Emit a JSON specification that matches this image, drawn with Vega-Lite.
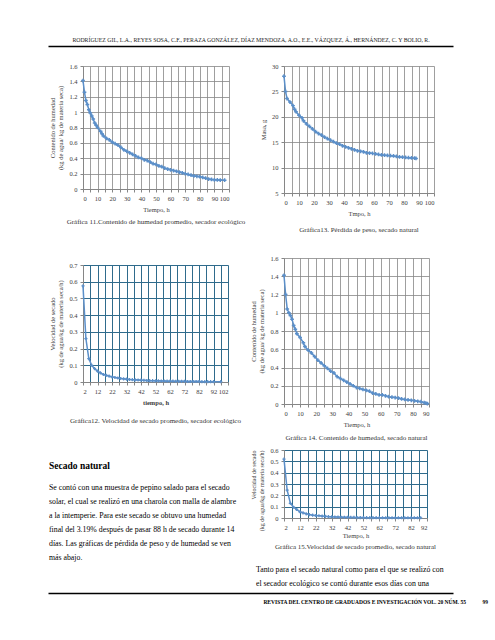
{
  "$schema": "https://vega.github.io/schema/vega-lite/v6.json",
  "background": "white",
  "padding": {"left": 45, "top": 37, "right": 5, "bottom": 5},
  "config": {
    "font": "Liberation Serif",
    "view": {"stroke": null},
    "axis": {"labelFont": "Liberation Serif", "titleFont": "Liberation Serif", "labelFontSize": 6.5, "titleFontSize": 6.5, "titleFontWeight": "normal", "labelColor": "#404040", "titleColor": "#404040", "domainColor": "#868686", "tickColor": "#868686", "gridColor": "#868686", "gridWidth": 0.8, "tickSize": 3, "labelPadding": 3, "titlePadding": 5},
    "title": {"font": "Liberation Serif", "fontSize": 7, "fontWeight": "normal", "color": "#333333", "offset": 6},
    "line": {"color": "#5b8fc9", "strokeWidth": 1.5},
    "point": {"color": "#5b8fc9"}
  },
  "datasets": {
    "hum_eco": [
      {"t":0,"v":1.41},{"t":1,"v":1.26},{"t":2,"v":1.15},{"t":3,"v":1.1},{"t":4,"v":1.03},{"t":5,"v":0.99},{"t":6,"v":0.95},{"t":7,"v":0.91},{"t":8,"v":0.86},{"t":9,"v":0.83},{"t":10,"v":0.8},{"t":12,"v":0.75},{"t":13,"v":0.72},{"t":14,"v":0.69},{"t":16,"v":0.66},{"t":18,"v":0.64},{"t":20,"v":0.61},{"t":22,"v":0.59},{"t":24,"v":0.57},{"t":26,"v":0.54},{"t":28,"v":0.51},{"t":30,"v":0.49},{"t":32,"v":0.47},{"t":34,"v":0.45},{"t":36,"v":0.43},{"t":38,"v":0.41},{"t":40,"v":0.4},{"t":42,"v":0.38},{"t":44,"v":0.37},{"t":46,"v":0.35},{"t":48,"v":0.33},{"t":50,"v":0.32},{"t":52,"v":0.3},{"t":54,"v":0.29},{"t":56,"v":0.27},{"t":58,"v":0.26},{"t":60,"v":0.25},{"t":62,"v":0.24},{"t":64,"v":0.23},{"t":66,"v":0.22},{"t":68,"v":0.21},{"t":70,"v":0.2},{"t":72,"v":0.19},{"t":74,"v":0.18},{"t":76,"v":0.17},{"t":78,"v":0.165},{"t":80,"v":0.16},{"t":82,"v":0.15},{"t":84,"v":0.14},{"t":86,"v":0.13},{"t":88,"v":0.125},{"t":90,"v":0.12},{"t":92,"v":0.118},{"t":94,"v":0.117},{"t":97,"v":0.115}
    ],
    "vel_eco": [
      {"t":2,"v":0.575},{"t":4,"v":0.26},{"t":6,"v":0.14},{"t":8,"v":0.1},{"t":10,"v":0.08},{"t":12,"v":0.065},{"t":14,"v":0.055},{"t":16,"v":0.045},{"t":18,"v":0.04},{"t":20,"v":0.035},{"t":22,"v":0.03},{"t":24,"v":0.027},{"t":26,"v":0.024},{"t":28,"v":0.021},{"t":30,"v":0.019},{"t":32,"v":0.017},{"t":34,"v":0.015},{"t":36,"v":0.014},{"t":38,"v":0.013},{"t":40,"v":0.012},{"t":42,"v":0.011},{"t":44,"v":0.01},{"t":46,"v":0.009},{"t":48,"v":0.008},{"t":50,"v":0.008},{"t":52,"v":0.007},{"t":54,"v":0.007},{"t":56,"v":0.006},{"t":58,"v":0.006},{"t":60,"v":0.005},{"t":62,"v":0.005},{"t":64,"v":0.005},{"t":66,"v":0.004},{"t":68,"v":0.004},{"t":70,"v":0.004},{"t":72,"v":0.004},{"t":74,"v":0.003},{"t":76,"v":0.003},{"t":78,"v":0.003},{"t":80,"v":0.003},{"t":82,"v":0.003},{"t":84,"v":0.002},{"t":86,"v":0.002},{"t":88,"v":0.002},{"t":90,"v":0.002},{"t":92,"v":0.002},{"t":97,"v":0.002}
    ],
    "masa_nat": [
      {"t":0,"v":28},{"t":1,"v":25},{"t":2,"v":23.6},{"t":4,"v":22.9},{"t":6,"v":22.2},{"t":7,"v":21.5},{"t":8,"v":21},{"t":10,"v":20.3},{"t":12,"v":19.8},{"t":13,"v":19.2},{"t":15,"v":18.6},{"t":17,"v":18.1},{"t":19,"v":17.6},{"t":21,"v":17.1},{"t":23,"v":16.7},{"t":25,"v":16.4},{"t":27,"v":16},{"t":29,"v":15.7},{"t":31,"v":15.4},{"t":33,"v":15.1},{"t":35,"v":14.8},{"t":37,"v":14.6},{"t":39,"v":14.3},{"t":41,"v":14.1},{"t":43,"v":13.9},{"t":45,"v":13.7},{"t":47,"v":13.5},{"t":49,"v":13.3},{"t":51,"v":13.2},{"t":53,"v":13.1},{"t":55,"v":12.9},{"t":57,"v":12.85},{"t":59,"v":12.8},{"t":61,"v":12.7},{"t":63,"v":12.6},{"t":65,"v":12.5},{"t":67,"v":12.45},{"t":69,"v":12.4},{"t":71,"v":12.35},{"t":73,"v":12.3},{"t":75,"v":12.2},{"t":77,"v":12.1},{"t":79,"v":12.05},{"t":81,"v":12},{"t":83,"v":11.95},{"t":85,"v":11.9},{"t":87,"v":11.85},{"t":88,"v":11.8}
    ],
    "hum_nat": [
      {"t":0,"v":1.41},{"t":1,"v":1.2},{"t":2,"v":1.04},{"t":3,"v":1},{"t":4,"v":0.97},{"t":5,"v":0.93},{"t":6,"v":0.86},{"t":7,"v":0.82},{"t":8,"v":0.77},{"t":10,"v":0.73},{"t":12,"v":0.67},{"t":13,"v":0.63},{"t":15,"v":0.59},{"t":17,"v":0.56},{"t":19,"v":0.52},{"t":21,"v":0.48},{"t":23,"v":0.45},{"t":25,"v":0.42},{"t":27,"v":0.39},{"t":29,"v":0.36},{"t":31,"v":0.34},{"t":33,"v":0.3},{"t":35,"v":0.28},{"t":37,"v":0.26},{"t":39,"v":0.24},{"t":41,"v":0.22},{"t":43,"v":0.2},{"t":45,"v":0.18},{"t":47,"v":0.17},{"t":49,"v":0.16},{"t":51,"v":0.15},{"t":53,"v":0.14},{"t":55,"v":0.12},{"t":57,"v":0.11},{"t":59,"v":0.1},{"t":61,"v":0.1},{"t":63,"v":0.09},{"t":65,"v":0.08},{"t":67,"v":0.075},{"t":69,"v":0.07},{"t":71,"v":0.065},{"t":73,"v":0.055},{"t":75,"v":0.05},{"t":77,"v":0.045},{"t":79,"v":0.04},{"t":81,"v":0.035},{"t":83,"v":0.03},{"t":85,"v":0.025},{"t":87,"v":0.015},{"t":88,"v":0.01},{"t":89,"v":0.005}
    ],
    "vel_nat": [
      {"t":2,"v":0.52},{"t":4,"v":0.245},{"t":6,"v":0.13},{"t":8,"v":0.095},{"t":10,"v":0.075},{"t":12,"v":0.055},{"t":14,"v":0.045},{"t":16,"v":0.037},{"t":18,"v":0.03},{"t":20,"v":0.025},{"t":22,"v":0.022},{"t":24,"v":0.02},{"t":26,"v":0.017},{"t":28,"v":0.015},{"t":30,"v":0.012},{"t":32,"v":0.01},{"t":34,"v":0.009},{"t":36,"v":0.008},{"t":38,"v":0.007},{"t":40,"v":0.006},{"t":42,"v":0.006},{"t":44,"v":0.005},{"t":46,"v":0.005},{"t":48,"v":0.004},{"t":50,"v":0.004},{"t":52,"v":0.004},{"t":54,"v":0.003},{"t":56,"v":0.003},{"t":58,"v":0.003},{"t":60,"v":0.003},{"t":62,"v":0.003},{"t":64,"v":0.002},{"t":66,"v":0.002},{"t":68,"v":0.002},{"t":70,"v":0.002},{"t":72,"v":0.002},{"t":74,"v":0.002},{"t":76,"v":0.002},{"t":78,"v":0.002},{"t":80,"v":0.002},{"t":82,"v":0.002},{"t":84,"v":0.002},{"t":86,"v":0.002},{"t":88,"v":0.002}
    ],
    "rule": [{"a": 0}, {"a": 1}]
  },
  "spacing": 2,
  "vconcat": [
    {
      "width": 370, "height": 15,
      "data": {"name": "rule"},
      "mark": {"type": "point", "opacity": 0},
      "encoding": {
        "x": {"field": "a", "type": "quantitative", "scale": {"domain": [0, 1], "range": [-35, 370]}, "axis": {"orient": "top", "domain": true, "domainColor": "black", "domainWidth": 1.3, "labels": false, "ticks": false, "grid": false, "title": null, "minExtent": 0, "maxExtent": 1}}
      },
      "title": {"text": "RODRÍGUEZ GIL, L.A., REYES SOSA, C.F., PERAZA GONZÁLEZ, DÍAZ MENDOZA, A.O., E.E., VÁZQUEZ, Á., HERNÁNDEZ, C. Y BOLIO, R.", "fontSize": 5.8, "anchor": "middle", "color": "#222222", "offset": 3, "dx": -17}
    },
    {
      "spacing": 4,
      "hconcat": [
        {
          "spacing": 37,
          "vconcat": [
            {
              "width": 146, "height": 123,
              "data": {"name": "hum_eco"},
              "mark": {"type": "line", "point": {"shape": "cross", "size": 14, "filled": true}},
              "encoding": {
                "x": {"field": "t", "type": "quantitative", "scale": {"domain": [0, 100], "nice": false}, "axis": {"values": [0,5,10,15,20,25,30,35,40,45,50,55,60,65,70,75,80,85,90,95,100], "labelExpr": "datum.value % 10 == 0 ? datum.label : ''", "title": "Tiempo, h"}},
                "y": {"field": "v", "type": "quantitative", "scale": {"domain": [0, 1.6], "nice": false}, "axis": {"values": [0,0.2,0.4,0.6,0.8,1,1.2,1.4,1.6], "format": "~g", "title": ["Contenido de humedad", "(kg de agua/ kg de materia seca)"]}}
              },
              "title": {"text": "Gráfica 11.Contenido de humedad promedio, secador ecológico", "orient": "bottom", "offset": 5}
            },
            {
              "width": 145, "height": 117,
              "data": {"name": "vel_eco"},
              "mark": {"type": "line", "point": {"shape": "cross", "size": 10, "filled": true}},
              "encoding": {
                "x": {"field": "t", "type": "quantitative", "scale": {"domain": [2, 102], "nice": false}, "axis": {"values": [2,7,12,17,22,27,32,37,42,47,52,57,62,67,72,77,82,87,92,97,102], "labelExpr": "(datum.value - 2) % 10 == 0 ? datum.label : ''", "title": "tiempo, h", "titleFontWeight": "bold", "gridColor": "#2f6b8c", "gridWidth": 1}},
                "y": {"field": "v", "type": "quantitative", "scale": {"domain": [0, 0.7], "nice": false}, "axis": {"values": [0,0.1,0.2,0.3,0.4,0.5,0.6,0.7], "format": "~g", "title": ["Velocidad de secado", "(kg de agua/kg de materia seca/h)"], "gridColor": "#2f6b8c", "gridWidth": 1}}
              },
              "title": {"text": "Gráfica12. Velocidad de secado promedio, secador ecológico", "orient": "bottom", "offset": 11}
            },
            {
              "width": 150, "height": 1,
              "data": {"name": "rule"},
              "mark": {"type": "point", "opacity": 0},
              "title": {"text": "Secado natural", "fontSize": 9.5, "fontWeight": "bold", "color": "black", "anchor": "start", "dx": -34, "offset": 0,
                "subtitle": ["Se contó con una muestra de pepino salado para el secado", "solar, el cual se realizó en una charola con malla de alambre", "a la intemperie. Para este secado se obtuvo una humedad", "final del 3.19% después de pasar 88 h de secado durante 14", "días. Las gráficas de pérdida de peso y de humedad se ven", "más abajo."],
                "subtitleFont": "Liberation Serif", "subtitleFontSize": 7.8, "subtitleColor": "black", "subtitleLineHeight": 14, "subtitlePadding": 13}
            }
          ]
        },
        {
          "spacing": 22,
          "vconcat": [
            {
              "width": 150, "height": 127,
              "data": {"name": "masa_nat"},
              "mark": {"type": "line", "point": {"shape": "cross", "size": 14, "filled": true}},
              "encoding": {
                "x": {"field": "t", "type": "quantitative", "scale": {"domain": [0, 100], "nice": false}, "axis": {"values": [0,5,10,15,20,25,30,35,40,45,50,55,60,65,70,75,80,85,90,95,100], "labelExpr": "datum.value % 10 == 0 ? datum.label : ''", "title": "Tmpo, h"}},
                "y": {"field": "v", "type": "quantitative", "scale": {"domain": [5, 30], "nice": false, "zero": false}, "axis": {"values": [5,10,15,20,25,30], "title": "Masa, g"}}
              },
              "title": {"text": "Gráfica13. Pérdida de peso, secado natural", "orient": "bottom", "offset": 9}
            },
            {
              "spacing": 6,
              "vconcat": [
                {
                  "width": 145, "height": 146,
                  "data": {"name": "hum_nat"},
                  "mark": {"type": "line", "point": {"shape": "cross", "size": 14, "filled": true}},
                  "encoding": {
                    "x": {"field": "t", "type": "quantitative", "scale": {"domain": [0, 90], "nice": false}, "axis": {"values": [0,5,10,15,20,25,30,35,40,45,50,55,60,65,70,75,80,85,90], "labelExpr": "datum.value % 10 == 0 ? datum.label : ''", "title": "Tiempo, h"}},
                    "y": {"field": "v", "type": "quantitative", "scale": {"domain": [0, 1.6], "nice": false}, "axis": {"values": [0,0.2,0.4,0.6,0.8,1,1.2,1.4,1.6], "format": "~g", "title": ["Contenido de humedad", "(kg de agua/ kg de materia seca)"]}}
                  },
                  "title": {"text": "Gráfica 14. Contenido de humedad, secado natural", "orient": "bottom", "offset": 6}
                },
                {
                  "width": 143, "height": 68,
                  "data": {"name": "vel_nat"},
                  "mark": {"type": "line", "point": {"shape": "cross", "size": 10, "filled": true}},
                  "encoding": {
                    "x": {"field": "t", "type": "quantitative", "scale": {"domain": [2, 92], "nice": false}, "axis": {"values": [2,7,12,17,22,27,32,37,42,47,52,57,62,67,72,77,82,87,92], "labelExpr": "(datum.value - 2) % 10 == 0 ? datum.label : ''", "title": "Tiempo, h", "titlePadding": 2, "gridColor": "#2f6b8c", "gridWidth": 1}},
                    "y": {"field": "v", "type": "quantitative", "scale": {"domain": [0, 0.6], "nice": false}, "axis": {"values": [0,0.1,0.2,0.3,0.4,0.5,0.6], "format": "~g", "title": ["Velocidad de secado", "(kg de agua/kg de materia seca/h)"], "titleAnchor": "end", "titleFontSize": 6, "gridColor": "#2f6b8c", "gridWidth": 1}}
                  },
                  "title": {"text": "Gráfica 15.Velocidad de secado promedio, secado natural", "orient": "bottom", "offset": 4}
                },
                {
                  "width": 150, "height": 1,
                  "data": {"name": "rule"},
                  "mark": {"type": "point", "opacity": 0},
                  "title": {"text": ["Tanto para el secado natural como para el que se realizó con", "el secador ecológico se contó durante esos días con una"], "fontSize": 7.8, "color": "black", "anchor": "start", "orient": "bottom", "lineHeight": 14, "offset": 4, "dx": -28}
                }
              ]
            }
          ]
        }
      ]
    },
    {
      "width": 370, "height": 3,
      "data": {"name": "rule"},
      "mark": {"type": "point", "opacity": 0},
      "encoding": {
        "x": {"field": "a", "type": "quantitative", "scale": {"domain": [0, 1], "range": [-35, 370]}, "axis": {"orient": "top", "domain": true, "domainColor": "black", "domainWidth": 1.3, "labels": false, "ticks": false, "grid": false, "title": null, "minExtent": 0, "maxExtent": 1}}
      },
      "title": {"text": "REVISTA DEL CENTRO DE GRADUADOS E INVESTIGACIÓN VOL. 20 NÚM. 55\u00a0\u00a0\u00a0\u00a0\u00a0\u00a0\u00a0\u00a0\u00a0\u00a0\u00a0\u00a099", "fontSize": 5.5, "fontWeight": "bold", "color": "black", "anchor": "end", "orient": "bottom", "offset": 3}
    }
  ]
}
